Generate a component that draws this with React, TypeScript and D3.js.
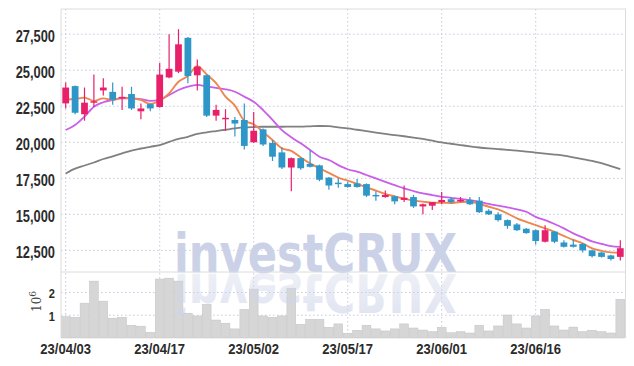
import React from "react";
import * as d3 from "d3";

// trading days, yy/mm/dd
const dates = [
  "23/04/03", "23/04/04", "23/04/05", "23/04/06", "23/04/07", "23/04/10", "23/04/11", "23/04/12", "23/04/13", "23/04/14",
  "23/04/17", "23/04/18", "23/04/19", "23/04/20", "23/04/21", "23/04/24", "23/04/25", "23/04/26", "23/04/27", "23/04/28",
  "23/05/02", "23/05/03", "23/05/04", "23/05/08", "23/05/09", "23/05/10", "23/05/11", "23/05/12", "23/05/15", "23/05/16",
  "23/05/17", "23/05/18", "23/05/19", "23/05/22", "23/05/23", "23/05/24", "23/05/25", "23/05/26", "23/05/30", "23/05/31",
  "23/06/01", "23/06/02", "23/06/05", "23/06/07", "23/06/08", "23/06/09", "23/06/12", "23/06/13", "23/06/14", "23/06/15",
  "23/06/16", "23/06/19", "23/06/20", "23/06/21", "23/06/22", "23/06/23", "23/06/26", "23/06/27", "23/06/28", "23/06/29",
];

const opens = [
  22700, 23900, 21950, 22750, 23600, 23500, 23050, 23350, 22150, 22650,
  22450, 24500, 24900, 27250, 24650, 24650, 21850, 21650, 21550, 21550,
  20000, 20900, 19950, 19300, 18250, 18900, 18500, 18400, 17550, 17200,
  17100, 17150, 17100, 16350, 16200, 16250, 16000, 16200, 15550, 15600,
  15850, 16050, 15900, 16000, 15950, 15250, 15000, 14600, 14300, 14000,
  13900, 13100, 13800, 13050, 12900, 12950, 12500, 12350, 12150, 12050,
];
const highs = [
  24150, 23950, 23800, 24700, 24450, 24150, 23850, 23850, 22700, 22700,
  25500, 27500, 27850, 27300, 25750, 24700, 22600, 22300, 21750, 22700,
  22100, 20950, 20150, 19650, 18950, 18950, 19450, 18450, 17600, 17500,
  17250, 17450, 17150, 16600, 16650, 16300, 17000, 16350, 15750, 15850,
  16550, 16200, 16200, 16200, 16200, 15350, 15150, 14650, 14400, 14050,
  13950, 14250, 13850, 13200, 13250, 13000, 12550, 12400, 12200, 13200,
];
const lows = [
  22350, 21950, 21500, 22450, 23250, 22600, 22250, 22250, 21600, 22150,
  22400, 24450, 24800, 24100, 23600, 21750, 21500, 20800, 20400, 19500,
  19950, 19750, 18700, 18150, 16600, 18100, 18250, 17300, 16700, 16850,
  16850, 16850, 16200, 15950, 16150, 15700, 15850, 15450, 15000, 15300,
  15700, 15750, 15850, 15650, 15100, 14950, 14500, 14000, 13850, 13650,
  12900, 13050, 13000, 12700, 12700, 12350, 12000, 12000, 11800, 11800,
];
const closes = [
  23800, 22050, 22750, 22850, 23800, 22950, 23150, 22350, 22350, 22350,
  24700, 25100, 26800, 24600, 25250, 21850, 22250, 21700, 21300, 19750,
  20800, 19850, 19000, 18250, 18900, 18200, 18300, 17400, 17000, 17150,
  16900, 16900, 16300, 16300, 16350, 15900, 16150, 15550, 15700, 15850,
  16000, 15850, 16000, 15700, 15150, 15000, 14600, 14200, 13900, 13700,
  13150, 13900, 13100, 12750, 12750, 12500, 12100, 12050, 11900, 12650,
];
const volumes = [
  940000, 910000, 1530000, 2500000, 1620000, 870000, 910000, 560000, 520000, 250000,
  2590000, 2630000, 2500000, 1090000, 970000, 1480000, 790000, 650000, 400000, 1260000,
  2150000, 970000, 910000, 970000, 2190000, 600000, 820000, 820000, 470000, 620000,
  210000, 340000, 560000, 400000, 310000, 400000, 620000, 440000, 350000, 280000,
  470000, 230000, 280000, 220000, 560000, 310000, 530000, 1010000, 620000, 440000,
  970000, 1260000, 530000, 350000, 480000, 280000, 340000, 280000, 220000, 1700000,
];

// moving averages as drawn
const ma5 = [
  22950, 23000, 23100, 22870, 23050, 22940, 23100, 23050, 22940, 22660,
  22900, 23400, 24200, 24600, 25280, 24700, 24100, 23170, 22550, 21500,
  21250, 20720, 20160, 19580, 19400, 18950, 18540, 18200, 17880, 17550,
  17340, 17120, 16870, 16650, 16420, 16250, 16100, 15960, 15880, 15810,
  15810, 15790, 15860, 15870, 15720, 15530, 15340, 15060, 14720, 14480,
  14250, 14030, 13790, 13500, 13220, 12990, 12640, 12470, 12360, 12330,
];
const ma20 = [
  20850, 21200, 21780, 22470, 22780, 22940, 23050, 23050, 23000, 22870,
  22940, 23280, 23630, 23860, 23980, 23880, 23780, 23680, 23510, 23170,
  22820, 22240, 21550, 20850, 20350, 19930, 19470, 19000, 18770, 18420,
  18130, 17960, 17730, 17500, 17260, 17030, 16800, 16620, 16460, 16340,
  16220, 16150, 16080, 15990, 15870, 15720, 15600, 15490, 15350, 15180,
  14830, 14600, 14330, 14030, 13680, 13400, 13120, 12960, 12800, 12750,
];
const ma60 = [
  17840, 18170, 18390, 18600, 18840, 19030, 19230, 19430, 19570, 19690,
  19810, 20030, 20240, 20380, 20580, 20690, 20780, 20870, 20960, 21030,
  21060, 21080, 21080, 21080, 21090, 21090, 21110, 21130, 21120, 21030,
  20970, 20870, 20770, 20670, 20580, 20500, 20420, 20330, 20230, 20110,
  19990, 19900, 19810, 19720, 19640, 19580, 19530, 19480, 19420, 19360,
  19290, 19220, 19150, 19070, 18960, 18840, 18710, 18550, 18350, 18140,
];

const priceTicks = [12500, 15000, 17500, 20000, 22500, 25000, 27500];
const volumeTicks = [1000000, 2000000];

const UP = "#e8206c";
const DOWN = "#2f96c8";
const GRID = "#c5cbe0";
const LABEL_FONT = "'Liberation Sans', Arial, sans-serif";
const MARK_FONT = "'DejaVu Sans', 'Liberation Sans', sans-serif";

const App = () => {
  const W = 634;
  const H = 366;
  const left = 61;
  const right = 625;
  const top = 9;
  const split = 272;
  const bottom = 338;

  const x = d3.scaleBand().domain(dates).range([left, right]).padding(0);
  const cx = (i) => x(dates[i]) + x.bandwidth() / 2;
  const y = d3.scaleLinear().domain([11000, 29250]).range([split, top]);
  const yv = d3.scaleLinear().domain([0, 2900000]).range([bottom, split]);

  const fmt = d3.format(",");
  const line = d3
    .line()
    .x((d, i) => cx(i))
    .y((d) => y(d))
    .curve(d3.curveMonotoneX);

  const bodyW = x.bandwidth() * 0.72;
  const labelIdx = dates.map((d, i) => i).filter((i) => i % 10 === 0);

  return (
    <svg
      width={W}
      height={H}
      style={{ position: "absolute", left: 0, top: 0, background: "#fff" }}
    >
      <defs>
        <linearGradient id="refl" x1="0" y1="0" x2="0" y2="1">
          <stop offset="0" stopColor="#cfd5e9" stopOpacity="0.95" />
          <stop offset="1" stopColor="#cfd5e9" stopOpacity="0.4" />
        </linearGradient>
        <clipPath id="lowerClip">
          <rect x={left} y={split + 1} width={right - left} height={bottom - split} />
        </clipPath>
      </defs>

      {/* grid */}
      {priceTicks.map((t) => (
        <line key={t} x1={left} x2={right} y1={y(t)} y2={y(t)} stroke={GRID} strokeDasharray="1.5,2.5" />
      ))}
      {volumeTicks.map((t) => (
        <line key={t} x1={left} x2={right} y1={yv(t)} y2={yv(t)} stroke={GRID} strokeDasharray="1.5,2.5" />
      ))}
      {labelIdx.map((i) => (
        <line key={i} x1={cx(i)} x2={cx(i)} y1={top} y2={bottom} stroke={GRID} strokeDasharray="1.5,2.5" />
      ))}

      {/* watermark */}
      <text
        x={174}
        y={split}
        fontFamily={MARK_FONT}
        fontWeight="bold"
        fontSize={53}
        textLength={283}
        lengthAdjust="spacingAndGlyphs"
        fill="#cbd2e8"
      >
        investCRUX
      </text>

      {/* volume */}
      {volumes.map((v, i) => (
        <rect
          key={i}
          x={x(dates[i]) + 0.3}
          width={x.bandwidth() - 0.6}
          y={yv(v)}
          height={bottom - yv(v)}
          fill="#d6d6d6"
          stroke="#c2c2c2"
          strokeWidth={0.5}
        />
      ))}
      <g clipPath="url(#lowerClip)">
        <text
          transform={`translate(174,${split + 2}) scale(1,-1)`}
          x={0}
          y={0}
          fontFamily={MARK_FONT}
          fontWeight="bold"
          fontSize={53}
          textLength={283}
          lengthAdjust="spacingAndGlyphs"
          fill="url(#refl)"
          opacity={0.7}
        >
          investCRUX
        </text>
      </g>

      {/* frame */}
      <line x1={left} x2={right + 1} y1={top} y2={top} stroke="#dcdcdc" />
      <line x1={left} x2={left} y1={top} y2={bottom} stroke="#dcdcdc" />
      <line x1={right + 0.5} x2={right + 0.5} y1={top} y2={bottom} stroke="#dcdcdc" />
      <line x1={left} x2={right} y1={split} y2={split} stroke="#dcdcdc" />

      {/* moving averages */}
      <path d={line(ma60)} fill="none" stroke="#808080" strokeWidth={1.8} />
      <path d={line(ma20)} fill="none" stroke="#c95ee8" strokeWidth={1.8} />
      <path d={line(ma5)} fill="none" stroke="#ef8650" strokeWidth={1.9} />

      {/* candles */}
      {dates.map((d, i) => {
        const up = closes[i] >= opens[i];
        const c = up ? UP : DOWN;
        const y0 = y(Math.max(opens[i], closes[i]));
        const y1 = y(Math.min(opens[i], closes[i]));
        return (
          <g key={d}>
            <line x1={cx(i)} x2={cx(i)} y1={y(highs[i])} y2={y(lows[i])} stroke={c} strokeWidth={1.2} />
            <rect x={cx(i) - bodyW / 2} width={bodyW} y={y0} height={Math.max(1.5, y1 - y0)} fill={c} />
          </g>
        );
      })}

      {/* price axis labels */}
      {priceTicks.map((t) => (
        <text
          key={t}
          transform={`translate(55,${y(t) + 8}) scale(0.78,1)`}
          textAnchor="end"
          fontFamily={LABEL_FONT}
          fontWeight="bold"
          fontSize={16.5}
          fill="#2b2b2b"
        >
          {fmt(t)}
        </text>
      ))}

      {/* volume axis labels */}
      {volumeTicks.map((t) => (
        <text
          key={t}
          transform={`translate(55,${yv(t) + 6}) scale(0.85,1)`}
          textAnchor="end"
          fontFamily={LABEL_FONT}
          fontWeight="bold"
          fontSize={13}
          fill="#2b2b2b"
        >
          {t / 1000000}
        </text>
      ))}
      <text
        transform="translate(41,312) rotate(-90)"
        fontFamily="'DejaVu Serif', serif"
        fontSize={12}
        fill="#444"
      >
        10
        <tspan dy={-5} fontSize={9}>
          6
        </tspan>
      </text>

      {/* date labels */}
      {labelIdx.map((i) => (
        <text
          key={i}
          transform={`translate(${cx(i)},354) scale(0.9,1)`}
          textAnchor="middle"
          fontFamily={LABEL_FONT}
          fontWeight="bold"
          fontSize={14.5}
          fill="#2b2b2b"
        >
          {dates[i]}
        </text>
      ))}
    </svg>
  );
};

export default App;
